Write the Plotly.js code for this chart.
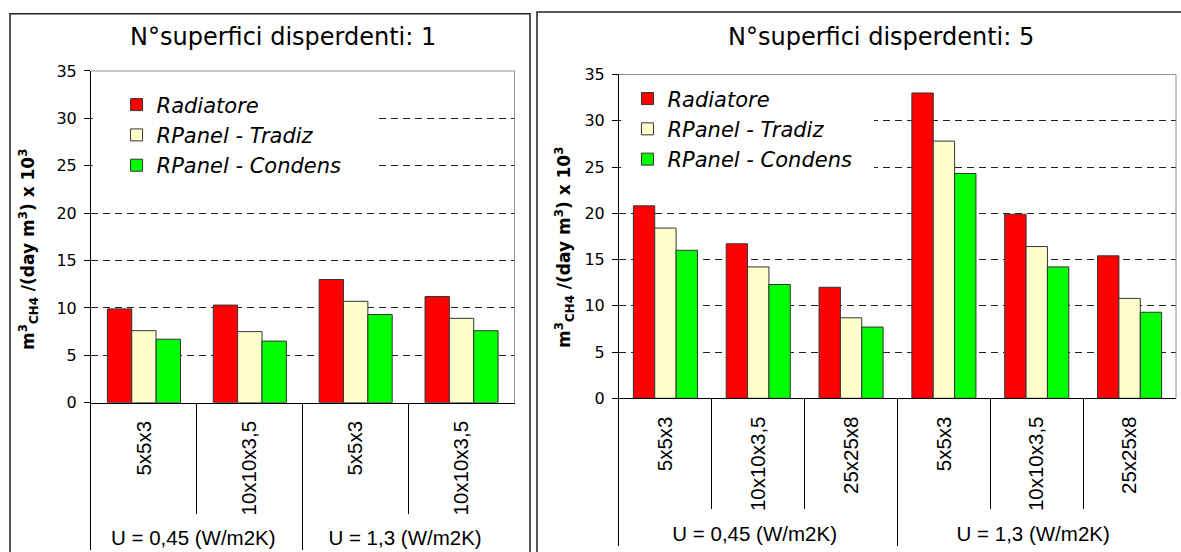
<!DOCTYPE html>
<html>
<head>
<meta charset="utf-8">
<script src="https://cdn.plot.ly/plotly-3.0.1.min.js"></script>
<style>html,body{margin:0;padding:0;background:#fff;}#chart{width:1181px;height:552px;}</style>
</head>
<body>
<div id="chart"></div>
<script>
// ---- data ----
const seriesNames = ['Radiatore', 'RPanel - Tradiz', 'RPanel - Condens'];
const seriesColors = ['#ff0000', '#ffffcc', '#00ff00'];
const uLabels = ['U = 0,45 (W/m2K)', 'U = 1,3 (W/m2K)'];
const rooms1 = ['5x5x3', '10x10x3,5'];
const rooms5 = ['5x5x3', '10x10x3,5', '25x25x8'];
const titleLeft = 'N°superfici disperdenti: 1';
const titleRight = 'N°superfici disperdenti: 5';
const yTitle = 'm<sup>3</sup><sub>CH4</sub> /(day m<sup>3</sup>) x 10<sup>3</sup>';
const yTicks = [0, 5, 10, 15, 20, 25, 30, 35];

// superfici = 1
const rad1 = [9.9, 10.3, 13.0, 11.2];
const tra1 = [7.6, 7.5, 10.7, 8.9];
const con1 = [6.7, 6.5, 9.3, 7.6];
// superfici = 5
const rad5 = [20.8, 16.7, 12.0, 33.0, 19.9, 15.4];
const tra5 = [18.4, 14.2, 8.7, 27.8, 16.4, 10.8];
const con5 = [16.0, 12.3, 7.7, 24.3, 14.2, 9.3];

function multiX(rooms) {
  const outer = [], inner = [];
  uLabels.forEach(u => rooms.forEach(r => { outer.push(u); inner.push(r); }));
  return [outer, inner];
}
const x1 = multiX(rooms1);
const x5 = multiX(rooms5);

const traces = [];
[rad1, tra1, con1].forEach((v, i) => traces.push({
  type: 'bar', x: x1, y: v, name: seriesNames[i], xaxis: 'x', yaxis: 'y', legend: 'legend',
  marker: {color: seriesColors[i], line: {color: '#333', width: 1}}, hoverinfo: 'none'
}));
[rad5, tra5, con5].forEach((v, i) => traces.push({
  type: 'bar', x: x5, y: v, name: seriesNames[i], xaxis: 'x2', yaxis: 'y2', legend: 'legend2',
  marker: {color: seriesColors[i], line: {color: '#333', width: 1}}, hoverinfo: 'none'
}));

const FONT = 'DejaVu Sans, sans-serif';
const XFONT = 'Liberation Sans, Arial, sans-serif';
function xax(domain, anchor) {
  return {
    domain: domain, anchor: anchor, type: 'multicategory',
    showline: true, linecolor: '#000', linewidth: 1,
    ticks: 'outside', ticklen: 110, tickcolor: '#000', tickwidth: 1,
    tickangle: -90, ticklabelstandoff: 9,
    tickfont: {family: XFONT, size: 20.5, color: '#000'},
    showdividers: true, dividercolor: '#000', dividerwidth: 1,
    showgrid: false, automargin: false, fixedrange: true
  };
}
function yax(domain, anchor) {
  return {
    domain: domain, anchor: anchor, range: [0, 35], tickvals: yTicks,
    showline: true, linecolor: '#000', linewidth: 1,
    ticks: 'outside', ticklen: 6, tickcolor: '#000', ticklabelstandoff: 4,
    tickfont: {family: FONT, size: 16, color: '#000'},
    showgrid: true, gridcolor: '#222', gridwidth: 1, griddash: '7px,5px',
    zeroline: false, automargin: false, fixedrange: true
  };
}

const legendBase = {
  font: {family: FONT, size: 21, style: 'italic', color: '#000'},
  bgcolor: 'rgba(0,0,0,0)', borderwidth: 0, xanchor: 'left', yanchor: 'top',
  itemclick: false, itemdoubleclick: false
};

const titleFont = {family: FONT, size: 24, color: '#000'};
const yTitleFont = {family: FONT, size: 17, color: '#000', weight: 'bold'};

const layout = {
  width: 1181, height: 552,
  margin: {l: 0, r: 0, t: 0, b: 0},
  paper_bgcolor: '#fff', plot_bgcolor: '#fff',
  font: {family: FONT, color: '#000'},
  barmode: 'group', bargap: 0.31, bargroupgap: 0,
  xaxis: xax([0.07705, 0.43565], 'y'),
  yaxis: yax([0.27047, 0.87138], 'x'),
  xaxis2: xax([0.52413, 0.99577], 'y2'),
  yaxis2: yax([0.27844, 0.86504], 'x2'),
  legend: Object.assign({}, legendBase, {x: 0.0987, y: 0.847}),
  legend2: Object.assign({}, legendBase, {x: 0.5313, y: 0.858}),
  annotations: [
    {text: titleLeft, xref: 'paper', yref: 'paper', x: 283/1181, y: 1 - 37/552, xanchor: 'center', yanchor: 'middle',
     showarrow: false, font: titleFont},
    {text: titleRight, xref: 'paper', yref: 'paper', x: 880.5/1181, y: 1 - 37/552, xanchor: 'center', yanchor: 'middle',
     showarrow: false, font: titleFont},
    {text: yTitle, xref: 'paper', yref: 'paper', x: 28/1181, y: 1 - 250/552, xanchor: 'center', yanchor: 'middle',
     textangle: -90, showarrow: false, font: yTitleFont},
    {text: yTitle, xref: 'paper', yref: 'paper', x: 564/1181, y: 1 - 248/552, xanchor: 'center', yanchor: 'middle',
     textangle: -90, showarrow: false, font: yTitleFont}
  ],
  shapes: [
    // legend masks over gridlines
    {type: 'rect', layer: 'above', xref: 'x domain', yref: 'y', x0: 0.004, x1: 0.6706, y0: 22, y1: 34.8,
     fillcolor: '#fff', line: {width: 0}},
    {type: 'rect', layer: 'above', xref: 'x2 domain', yref: 'y2', x0: 0.004, x1: 0.4578, y0: 22, y1: 34.8,
     fillcolor: '#fff', line: {width: 0}},
    // plot area frame (top / right)
    {type: 'line', layer: 'above', xref: 'x domain', yref: 'y domain', x0: 0, x1: 1, y0: 1, y1: 1, line: {color: '#8c8c8c', width: 1}},
    {type: 'line', layer: 'above', xref: 'x domain', yref: 'y domain', x0: 1, x1: 1, y0: 0, y1: 1, line: {color: '#8c8c8c', width: 1}},
    {type: 'line', layer: 'above', xref: 'x2 domain', yref: 'y2 domain', x0: 0, x1: 1, y0: 1, y1: 1, line: {color: '#8c8c8c', width: 1}},
    {type: 'line', layer: 'above', xref: 'x2 domain', yref: 'y2 domain', x0: 1, x1: 1, y0: 0, y1: 1, line: {color: '#8c8c8c', width: 1}},
    // outer panel frames
    {type: 'rect', layer: 'below', xref: 'paper', yref: 'paper', x0: 10/1181, x1: 530/1181, y0: -0.1, y1: 1 - 13.7/552,
     line: {color: '#222', width: 1.5}},
    {type: 'rect', layer: 'below', xref: 'paper', yref: 'paper', x0: 537/1181, x1: 1.1, y0: -0.1, y1: 1 - 12/552,
     line: {color: '#222', width: 1.5}}
  ]
};

Plotly.newPlot('chart', traces, layout, {displayModeBar: false, staticPlot: true});
</script>
</body>
</html>
